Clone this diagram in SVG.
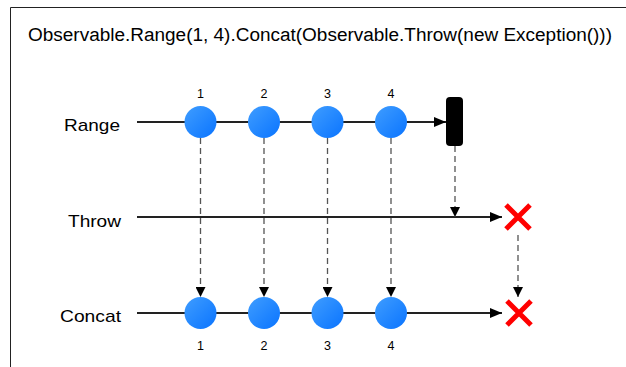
<svg xmlns="http://www.w3.org/2000/svg" width="626" height="367" viewBox="0 0 626 367">
  <defs>
    <linearGradient id="ball" x1="0" y1="0" x2="1" y2="1">
      <stop offset="0" stop-color="#3f9dff"/>
      <stop offset="1" stop-color="#0a74ff"/>
    </linearGradient>
    <marker id="arrow" viewBox="0 0 10 10" refX="10" refY="5" markerWidth="10" markerHeight="10" markerUnits="userSpaceOnUse" orient="auto">
      <path d="M0,0 L10,5 L0,10 z" fill="#000"/>
    </marker>
    <marker id="arrowBig" viewBox="0 0 12 10" refX="12" refY="5" markerWidth="12" markerHeight="10" markerUnits="userSpaceOnUse" orient="auto">
      <path d="M0,0 L12,5 L0,10 z" fill="#000"/>
    </marker>
  </defs>
  <style>
    text { font-family: "Liberation Sans", Arial, sans-serif; fill: #000; }
    .title { font-size: 18px; }
    .lane { font-size: 17px; }
    .num { font-size: 12.5px; text-anchor: middle; }
    .line { stroke: #222; stroke-width: 2; fill: none; }
    .dash { stroke: #555; stroke-width: 1.3; stroke-dasharray: 6 4; fill: none; }
    .ball { fill: url(#ball); }
    .err { stroke: #ff0000; stroke-width: 5; fill: none; }
  </style>

  <rect width="626" height="367" fill="#fff"/>
  <!-- frame -->
  <path d="M10.5,367 V7.5 H626" fill="none" stroke="#222" stroke-width="1"/>

  <text class="title" x="28" y="41" textLength="584" lengthAdjust="spacingAndGlyphs">Observable.Range(1, 4).Concat(Observable.Throw(new Exception()))</text>

  <!-- connectors -->
  <g id="connectors">
    <line class="line" x1="137" y1="122" x2="446" y2="122" marker-end="url(#arrowBig)"/>
    <line class="line" x1="137" y1="217" x2="502" y2="217" marker-end="url(#arrowBig)"/>
    <line class="line" x1="137" y1="313" x2="502" y2="313" marker-end="url(#arrowBig)"/>
    <line class="dash" x1="200.5" y1="138" x2="200.5" y2="297" marker-end="url(#arrow)"/>
    <line class="dash" x1="264" y1="138" x2="264" y2="297" marker-end="url(#arrow)"/>
    <line class="dash" x1="327.5" y1="138" x2="327.5" y2="297" marker-end="url(#arrow)"/>
    <line class="dash" x1="391" y1="138" x2="391" y2="297" marker-end="url(#arrow)"/>
    <line class="dash" x1="455" y1="146" x2="455" y2="217" marker-end="url(#arrow)"/>
    <line class="dash" x1="518" y1="235" x2="518" y2="297" marker-end="url(#arrow)"/>
  </g>

  <!-- lane labels -->
  <g id="lane-range"><text class="lane" x="64" y="131" textLength="56" lengthAdjust="spacingAndGlyphs">Range</text></g>
  <g id="lane-throw"><text class="lane" x="68" y="227" textLength="53" lengthAdjust="spacingAndGlyphs">Throw</text></g>
  <g id="lane-concat"><text class="lane" x="60" y="322" textLength="61" lengthAdjust="spacingAndGlyphs">Concat</text></g>

  <!-- Range emissions -->
  <g id="range-1"><circle class="ball" cx="200.5" cy="122" r="16"/><text class="num" x="200.5" y="98">1</text></g>
  <g id="range-2"><circle class="ball" cx="264" cy="122" r="16"/><text class="num" x="264" y="98">2</text></g>
  <g id="range-3"><circle class="ball" cx="327.5" cy="122" r="16"/><text class="num" x="327.5" y="98">3</text></g>
  <g id="range-4"><circle class="ball" cx="391" cy="122" r="16"/><text class="num" x="391" y="98">4</text></g>
  <g id="range-complete"><rect x="446" y="97" width="17" height="49" rx="4" fill="#000"/></g>

  <!-- Throw error -->
  <g id="throw-error"><path class="err" d="M506,205 L530,229 M530,205 L506,229"/></g>

  <!-- Concat emissions -->
  <g id="concat-1"><circle class="ball" cx="200.5" cy="313" r="16"/><text class="num" x="200.5" y="350">1</text></g>
  <g id="concat-2"><circle class="ball" cx="264" cy="313" r="16"/><text class="num" x="264" y="350">2</text></g>
  <g id="concat-3"><circle class="ball" cx="327.5" cy="313" r="16"/><text class="num" x="327.5" y="350">3</text></g>
  <g id="concat-4"><circle class="ball" cx="391" cy="313" r="16"/><text class="num" x="391" y="350">4</text></g>
  <g id="concat-error"><path class="err" d="M507,301 L531,325 M531,301 L507,325"/></g>
</svg>
